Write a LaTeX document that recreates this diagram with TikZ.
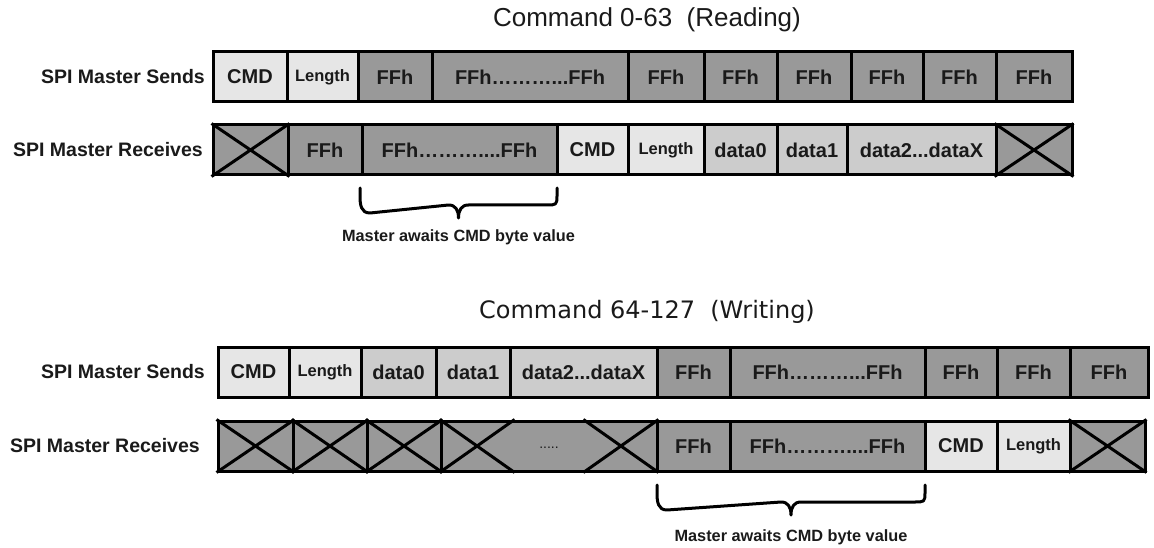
\documentclass[tikz,border=0pt]{standalone}
\usepackage{fontspec}
\setmainfont{Liberation Sans}
\newfontfamily\headfont{DejaVu Sans}
\usetikzlibrary{calc}

\definecolor{darkcell}{HTML}{999999}
\definecolor{lightcell}{HTML}{E6E6E6}
\definecolor{midcell}{HTML}{CCCCCC}
\definecolor{ink}{HTML}{1A1A1A}

\tikzset{
  cell/.style={draw=black, line width=3pt, minimum height=50pt, inner sep=0pt,
    text=ink, font=\fontsize{20}{24}\selectfont\bfseries},
  dark/.style={fill=darkcell},
  light/.style={fill=lightcell},
  mid/.style={fill=midcell},
  small/.style={font=\fontsize{16.5}{20}\selectfont\bfseries},
  cross/.style={line width=3pt, draw=black},
  rowlabel/.style={anchor=east, inner sep=0pt, text=ink,
    font=\fontsize{19.5}{23}\selectfont\bfseries},
  note/.style={inner sep=0pt, text=ink, font=\fontsize{16.3}{20}\selectfont\bfseries},
  bracket/.style={line width=3pt, draw=black, line cap=round, line join=round},
  heading/.style={inner sep=0pt, text=ink}
}

% \cell{name}{left}{right}{y centre}{style}{text}
\newcommand\cell[6]{%
  \node[cell,#5,minimum width={(#3-#2)*1pt}] (#1) at ({(#2+#3)/2},#4) {#6};}
% a "don't care" byte: grey cell with a cross
\newcommand\xcell[4]{%
  \cell{#1}{#2}{#3}{#4}{dark}{}
  \draw[cross] (#1.north west) -- (#1.south east) (#1.south west) -- (#1.north east);}

\begin{document}
\begin{tikzpicture}[x=1pt,y=-1pt]
\useasboundingbox (0,0) rectangle (1154,548);

% ---------------- Command 0-63 (Reading) ----------------
\node[heading, font=\fontsize{26}{30}\selectfont] (headR) at (647,20) {Command 0-63\ \ (Reading)};

\node[rowlabel] (sendR) at (205,77) {SPI Master Sends};
\node[rowlabel] (recvR) at (203,150) {SPI Master Receives};

\cell{rs1}{213}{287}{77}{light}{CMD}
\cell{rs2}{287}{358}{77}{light,small}{Length}
\cell{rs3}{358}{432}{77}{dark}{FFh}
\cell{rs4}{432}{628}{77}{dark}{FFh………...FFh}
\cell{rs5}{628}{704}{77}{dark}{FFh}
\cell{rs6}{704}{777}{77}{dark}{FFh}
\cell{rs7}{777}{851}{77}{dark}{FFh}
\cell{rs8}{851}{923}{77}{dark}{FFh}
\cell{rs9}{923}{996}{77}{dark}{FFh}
\cell{rs10}{996}{1072}{77}{dark}{FFh}

\xcell{rr1}{213}{288}{150}
\cell{rr2}{288}{362}{150}{dark}{FFh}
\cell{rr3}{362}{557}{150}{dark}{FFh………....FFh}
\cell{rr4}{557}{628}{150}{light}{CMD}
\cell{rr5}{628}{704}{150}{light,small}{Length}
\cell{rr6}{704}{777}{150}{mid}{data0}
\cell{rr7}{777}{847}{150}{mid}{data1}
\cell{rr8}{847}{996}{150}{mid}{data2...dataX}
\xcell{rr9}{996}{1072}{150}

% brace under the bytes clocked while waiting for CMD
\coordinate (bRl) at (360,188);
\coordinate (bRr) at (557,188);
\coordinate (bRm) at (458.5,218);
\draw[bracket] (bRl) -- ++(0,8) .. controls ++(0,9) and ++(-9,0) .. ++(10,17)
  -- ($(bRm)+(-10,-13)$) .. controls ++(7,0) and ++(0,-8) .. (bRm)
  .. controls ++(0,-8) and ++(-7,0) .. ($(bRm)+(10,-13)$)
  -- ($(bRr)+(-10,17)$) .. controls ++(9,0) and ++(0,9) .. ($(bRr)+(0,8)$) -- (bRr);
\node[note] (waitR) at (458.5,237) {Master awaits CMD byte value};

% ---------------- Command 64-127 (Writing) ----------------
\node[heading, font=\headfont\fontsize{24}{28}\selectfont] (headW) at (647,312) {Command 64-127\ \ (Writing)};

\node[rowlabel] (sendW) at (205,372) {SPI Master Sends};
\node[rowlabel] (recvW) at (200,446) {SPI Master Receives};

\cell{ws1}{218}{289}{372}{light}{CMD}
\cell{ws2}{289}{361}{372}{light,small}{Length}
\cell{ws3}{361}{436}{372}{mid}{data0}
\cell{ws4}{436}{510}{372}{mid}{data1}
\cell{ws5}{510}{657}{372}{mid}{data2...dataX}
\cell{ws6}{657}{730}{372}{dark}{FFh}
\cell{ws7}{730}{925}{372}{dark}{FFh………...FFh}
\cell{ws8}{925}{997}{372}{dark}{FFh}
\cell{ws9}{997}{1070}{372}{dark}{FFh}
\cell{ws10}{1070}{1148}{372}{dark}{FFh}

\xcell{wr1}{218}{293}{446}
\xcell{wr2}{293}{367}{446}
\xcell{wr3}{367}{441}{446}
% a run of crossed bytes, shortened with dots
\cell{wr4}{441}{657}{446}{dark}{}
\node[inner sep=0pt, text=ink, font=\fontsize{14}{16}\selectfont] (gap) at (549,448) {.....};
\draw[cross] (wr4.north west) -- ($(wr4.south west)!0.343!(wr4.south east)$)
             (wr4.south west) -- ($(wr4.north west)!0.343!(wr4.north east)$)
             ($(wr4.north west)!0.657!(wr4.north east)$) -- (wr4.south east)
             ($(wr4.south west)!0.657!(wr4.south east)$) -- (wr4.north east);
\cell{wr5}{657}{730}{446}{dark}{FFh}
\cell{wr6}{730}{925}{446}{dark}{FFh………....FFh}
\cell{wr7}{925}{997}{446}{light}{CMD}
\cell{wr8}{997}{1070}{446}{light,small}{Length}
\xcell{wr9}{1070}{1145}{446}

\coordinate (bWl) at (657,485);
\coordinate (bWr) at (925,485);
\coordinate (bWm) at (791,515);
\draw[bracket] (bWl) -- ++(0,8) .. controls ++(0,9) and ++(-9,0) .. ++(10,17)
  -- ($(bWm)+(-10,-13)$) .. controls ++(7,0) and ++(0,-8) .. (bWm)
  .. controls ++(0,-8) and ++(-7,0) .. ($(bWm)+(10,-13)$)
  -- ($(bWr)+(-10,17)$) .. controls ++(9,0) and ++(0,9) .. ($(bWr)+(0,8)$) -- (bWr);
\node[note] (waitW) at (791,537) {Master awaits CMD byte value};
\end{tikzpicture}
\end{document}
